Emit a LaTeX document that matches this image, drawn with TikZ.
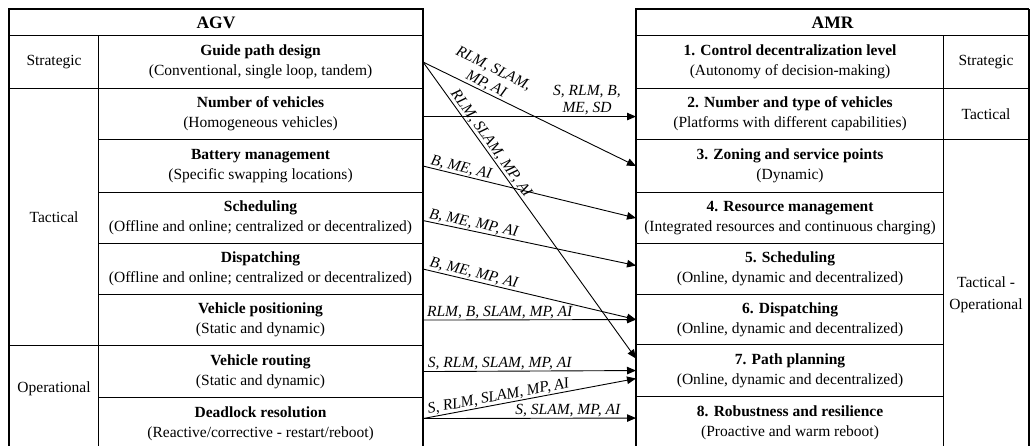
\documentclass[tikz,border=0pt]{standalone}
\usepackage{fontspec}
\setmainfont{Liberation Serif}
\usetikzlibrary{arrows.meta,calc}

\begin{document}
\begin{tikzpicture}[x=1pt,y=-1pt,
  cell/.style={draw, line width=1.1pt, anchor=north west, align=center, inner sep=0pt,
    font=\fontsize{15.5}{20}\selectfont},
  hdr/.style={cell, font=\fontsize{17.5}{20}\selectfont\bfseries},
  frame/.style={line width=2.6pt},
  link/.style={line width=0.9pt, -{Triangle[length=9pt,width=7.5pt]}},
  lab/.style={font=\fontsize{15.5}{17}\selectfont\itshape, inner sep=0.8pt, align=center}
]
\useasboundingbox (0,0) rectangle (1033,446);
\clip (0,0) rectangle (1033,446);

% ---------- AGV table ----------
\node[hdr, minimum width=413pt, minimum height=26pt] (agv) at (9,9) {AGV};
\node[cell, minimum width=89pt, minimum height=53pt]  (lstr) at (9,35)  {Strategic};
\node[cell, minimum width=89pt, minimum height=257pt] (ltac) at (9,88)  {Tactical};
\node[cell, minimum width=89pt, minimum height=104pt] (lop)  at (9,345) {};
\node[font=\fontsize{15.5}{20}\selectfont] at ($(lop.center)+(0,-9)$) {Operational};

\node[cell, minimum width=324pt, minimum height=53pt] (gp)  at (98,35)
  {\textbf{Guide path design}\\(Conventional, single loop, tandem)};
\node[cell, minimum width=324pt, minimum height=51pt] (nv)  at (98,88)
  {\textbf{Number of vehicles}\\(Homogeneous vehicles)};
\node[cell, minimum width=324pt, minimum height=53pt] (bm)  at (98,139)
  {\textbf{Battery management}\\(Specific swapping locations)};
\node[cell, minimum width=324pt, minimum height=51pt] (sch) at (98,192)
  {\textbf{Scheduling}\\(Offline and online; centralized or decentralized)};
\node[cell, minimum width=324pt, minimum height=51pt] (dis) at (98,243)
  {\textbf{Dispatching}\\(Offline and online; centralized or decentralized)};
\node[cell, minimum width=324pt, minimum height=51pt] (vp)  at (98,294)
  {\textbf{Vehicle positioning}\\(Static and dynamic)};
\node[cell, minimum width=324pt, minimum height=52pt] (vr)  at (98,345)
  {\textbf{Vehicle routing}\\(Static and dynamic)};
\node[cell, minimum width=324pt, minimum height=52pt] (dr)  at (98,397)
  {\textbf{Deadlock resolution}\\(Reactive/corrective - restart/reboot)};

\draw[frame] (lop.south west) -- (agv.north west) -- (agv.north east) -- (dr.south east);

% ---------- AMR table ----------
\node[hdr, minimum width=392pt, minimum height=26pt] (amr) at (636,9) {AMR};
\node[cell, minimum width=307pt, minimum height=53pt] (cd)  at (636,35)
  {\textbf{1. Control decentralization level}\\(Autonomy of decision-making)};
\node[cell, minimum width=307pt, minimum height=51pt] (nt)  at (636,88)
  {\textbf{2. Number and type of vehicles}\\(Platforms with different capabilities)};
\node[cell, minimum width=307pt, minimum height=53pt] (zn)  at (636,139)
  {\textbf{3. Zoning and service points}\\(Dynamic)};
\node[cell, minimum width=307pt, minimum height=51pt] (rm)  at (636,192)
  {\textbf{4. Resource management}\\(Integrated resources and continuous charging)};
\node[cell, minimum width=307pt, minimum height=51pt] (sc5) at (636,243)
  {\textbf{5. Scheduling}\\(Online, dynamic and decentralized)};
\node[cell, minimum width=307pt, minimum height=50pt] (dp6) at (636,294)
  {\textbf{6. Dispatching}\\(Online, dynamic and decentralized)};
\node[cell, minimum width=307pt, minimum height=52pt] (pp)  at (636,344)
  {\textbf{7. Path planning}\\(Online, dynamic and decentralized)};
\node[cell, minimum width=307pt, minimum height=53pt] (rb)  at (636,396)
  {\textbf{8. Robustness and resilience}\\(Proactive and warm reboot)};

\node[cell, minimum width=85pt, minimum height=53pt]  (rstr) at (943,35)  {Strategic};
\node[cell, minimum width=85pt, minimum height=51pt]  (rtac) at (943,88)  {Tactical};
\node[cell, minimum width=85pt, minimum height=310pt] (rtop) at (943,139)
  {Tactical -\\[2pt]Operational};

\draw[frame] (rb.south west) -- (amr.north west) -- (amr.north east);
\draw[line width=1.9pt] (amr.north east) -- (rtop.south east);

% ---------- connectors ----------
\draw[link] (gp.east) -- (zn.west)
  node[lab, above, sloped, pos=0.28] {RLM, SLAM,\\MP, AI};
\draw[link] (gp.east) -- ($(pp.west)+(0,-12)$)
  node[lab, above, sloped, pos=0.29] {RLM, SLAM, MP, AI};
\draw[link] ($(nv.east)+(0,2.5)$) -- ($(nt.west)+(0,2.5)$)
  node[lab, above, pos=0.77] {S, RLM, B,\\ME, SD};
\draw[link] (bm.east) -- (rm.west)
  node[lab, above, sloped, pos=0.17] {B, ME, AI};
\draw[link] ($(sch.east)+(0,2.5)$) -- ($(sc5.west)+(0,-3.5)$)
  node[lab, above, sloped, pos=0.23] {B, ME, MP, AI};
\draw[link] (dis.east) -- (dp6.west)
  node[lab, above, sloped, pos=0.23] {B, ME, MP, AI};
\draw[link] (vp.east) -- (dp6.west)
  node[lab, above, pos=0.36] {RLM, B, SLAM, MP, AI};
\draw[link] (vr.east) -- (pp.west)
  node[lab, above, pos=0.36] {S, RLM, SLAM, MP, AI};
\draw[link] ($(dr.east)+(0,-5)$) -- ($(pp.west)+(0,8)$)
  node[lab, above, sloped, pos=0.36] {S, RLM, SLAM, MP, AI};
\draw[link] ($(dr.east)+(0,-5)$) -- ($(rb.west)+(0,-5)$)
  node[lab, above, pos=0.68] {S, SLAM, MP, AI};
\end{tikzpicture}
\end{document}
